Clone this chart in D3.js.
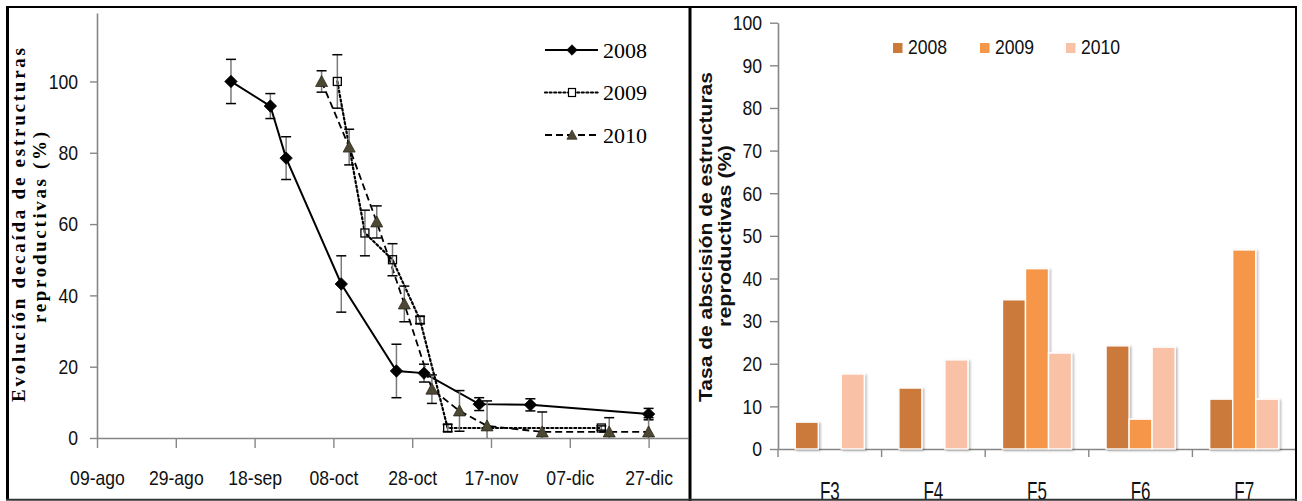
<!DOCTYPE html>
<html><head><meta charset="utf-8">
<script src="https://cdn.jsdelivr.net/npm/d3@7"></script>
<style>
html,body{margin:0;padding:0;background:#fff;}
svg{display:block;}
</style></head><body>
<svg id="fig" width="1302" height="501"></svg>
<script>
// ---------- Left panel: fall of reproductive structures over the season (%) ----------
const seasonTicks = ["09-ago","29-ago","18-sep","08-oct","28-oct","17-nov","07-dic","27-dic"];
const yTicksLeft = [0, 20, 40, 60, 80, 100];

const dates2008  = ["12-sep","22-sep","26-sep","10-oct","24-oct","31-oct","14-nov","27-nov","27-dic"];
const values2008 = [100, 93.1, 78.5, 43.2, 18.8, 18.2, 9.5, 9.3, 6.7];
const errors2008 = [6.2, 3.5, 6.0, 7.9, 7.5, 2.5, 1.8, 1.7, 1.6];

const dates2009  = ["09-oct","16-oct","23-oct","30-oct","06-nov","15-dic"];
const values2009 = [100, 57.5, 50.0, 33.1, 2.8, 2.8];
const errors2009 = [7.5, 6.4, 4.5, 1.0, 1.0, 0.6];

const dates2010  = ["05-oct","12-oct","19-oct","26-oct","02-nov","09-nov","16-nov","30-nov","17-dic","27-dic"];
const values2010 = [100, 81.6, 60.6, 37.6, 13.7, 7.6, 3.4, 1.7, 1.7, 1.7];
const errors2010 = [3.0, 5.0, 4.5, 5.0, 4.0, 5.7, 7.0, 5.6, 4.0, 4.0];

// ---------- Right panel: abscission rate by phenological phase (%) ----------
const phases   = ["F3","F4","F5","F6","F7"];
const barYears = ["2008","2009","2010"];
const rate2008 = [6.3, 14.3, 35.0, 24.2, 11.7];
const rate2009 = [0, 0, 42.3, 7.0, 46.7];
const rate2010 = [17.6, 20.9, 22.5, 23.9, 11.7];
const yTicksRight = [0, 10, 20, 30, 40, 50, 60, 70, 80, 90, 100];

// Spanish month names so "dd-mmm" strings parse onto a common season axis
const es = d3.timeFormatLocale({
  dateTime: "%A, %e de %B de %Y, %X", date: "%d/%m/%Y", time: "%H:%M:%S",
  periods: ["AM", "PM"],
  days: ["domingo","lunes","martes","miércoles","jueves","viernes","sábado"],
  shortDays: ["dom","lun","mar","mié","jue","vie","sáb"],
  months: ["enero","febrero","marzo","abril","mayo","junio","julio","agosto","septiembre","octubre","noviembre","diciembre"],
  shortMonths: ["ene","feb","mar","abr","may","jun","jul","ago","sep","oct","nov","dic"]
});
const parseDay = es.utcParse("%d-%b");

const svg = d3.select("#fig");
svg.append("rect").attr("width", 1302).attr("height", 501).attr("fill", "#fff");

const defs = svg.append("defs");
defs.append("filter").attr("id", "barShadow")
  .attr("x", "-20%").attr("y", "-10%").attr("width", "150%").attr("height", "130%")
  .append("feDropShadow")
  .attr("dx", 1.6).attr("dy", 1.2).attr("stdDeviation", 1.1)
  .attr("flood-color", "#000").attr("flood-opacity", 0.28);

const axisGrey = "#868686";
const tickFont = "'Liberation Sans', Arial, sans-serif";

function styleAxis(g) {
  g.select(".domain").attr("stroke", axisGrey).attr("stroke-width", 1.6);
  g.selectAll(".tick line").attr("stroke", axisGrey).attr("stroke-width", 1.4);
  g.selectAll("text").attr("fill", "#111").style("font-family", tickFont).style("font-size", "20px");
}

// ===== Left panel =====
const tickDates = seasonTicks.map(parseDay);
const xL = d3.scaleUtc()
  .domain([tickDates[0], d3.utcDay.offset(tickDates[tickDates.length - 1], 10)])
  .range([97, 688]);
const yL = d3.scaleLinear().domain([0, 119.2]).range([438, 13]);

const gL = svg.append("g");

const yAxisL = gL.append("g").attr("transform", "translate(97,0)")
  .call(d3.axisLeft(yL).tickValues(yTicksLeft).tickSize(7).tickSizeOuter(0));
styleAxis(yAxisL);
yAxisL.selectAll("text").attr("x", -21.6).attr("dy", "0.34em").attr("transform", "scale(0.88,1)");

const xAxisL = gL.append("g").attr("transform", "translate(0,438)")
  .call(d3.axisBottom(xL).tickValues(tickDates).tickFormat((d, i) => seasonTicks[i]).tickSize(10).tickSizeOuter(0));
styleAxis(xAxisL);
xAxisL.selectAll("text").attr("y", 33).attr("dy", "0.71em").attr("transform", "scale(0.88,1)");

const seriesL = [
  { name: "2008", dates: dates2008, values: values2008, errors: errors2008, dash: null,    width: 2.0, marker: "diamond" },
  { name: "2009", dates: dates2009, values: values2009, errors: errors2009, dash: "2,2.6", width: 2.2, marker: "square" },
  { name: "2010", dates: dates2010, values: values2010, errors: errors2010, dash: "7,4",   width: 1.8, marker: "triangle" }
];

const diamondPath  = "M0,-6.2L6.2,0L0,6.2L-6.2,0Z";
const trianglePath = "M0,-6L6,5L-6,5Z";

function drawMarker(g, kind, scale) {
  const s = scale || 1;
  if (kind === "diamond") {
    g.append("path").attr("d", diamondPath).attr("transform", `scale(${s})`).attr("fill", "#000").attr("stroke", "#000").attr("stroke-width", 0.8);
  } else if (kind === "square") {
    g.append("rect").attr("x", -4 * s).attr("y", -4 * s).attr("width", 8 * s).attr("height", 8 * s)
      .attr("fill", "none").attr("stroke", "#000").attr("stroke-width", 1.3);
  } else {
    g.append("path").attr("d", trianglePath).attr("transform", `scale(${s})`).attr("fill", "#4d4833").attr("stroke", "#2b281b").attr("stroke-width", 0.8);
  }
}

const lineL = d3.line().x(d => xL(d.date)).y(d => yL(d.value));

seriesL.forEach(s => {
  s.points = s.dates.map((t, i) => ({ date: parseDay(t), value: s.values[i], err: s.errors[i] }));
  gL.append("path").datum(s.points).attr("d", lineL)
    .attr("fill", "none").attr("stroke", "#000").attr("stroke-width", s.width)
    .attr("stroke-dasharray", s.dash).attr("stroke-linecap", s.dash === "2,2.6" ? "round" : "butt");
});

seriesL.forEach(s => {
  const eb = gL.append("g");
  s.points.forEach(p => {
    const x = xL(p.date);
    const lo = Math.max(0, p.value - p.err), hi = p.value + p.err;
    eb.append("line").attr("x1", x).attr("x2", x).attr("y1", yL(lo)).attr("y2", yL(hi))
      .attr("stroke", "#7a7a7a").attr("stroke-width", 1.5);
    eb.append("line").attr("x1", x - 5).attr("x2", x + 5).attr("y1", yL(hi)).attr("y2", yL(hi))
      .attr("stroke", "#000").attr("stroke-width", 1.5);
    if (p.value - p.err >= 0) {
      eb.append("line").attr("x1", x - 5).attr("x2", x + 5).attr("y1", yL(lo)).attr("y2", yL(lo))
        .attr("stroke", "#000").attr("stroke-width", 1.5);
    }
  });
  s.points.forEach(p => {
    const m = gL.append("g").attr("transform", `translate(${xL(p.date)},${yL(p.value)})`);
    drawMarker(m, s.marker, 1);
  });
});

// legend of the left panel
const legL = gL.append("g");
seriesL.forEach((s, i) => {
  const y = 50 + i * 42.5;
  legL.append("line").attr("x1", 545).attr("x2", 598).attr("y1", y).attr("y2", y)
    .attr("stroke", "#000").attr("stroke-width", s.width).attr("stroke-dasharray", s.dash)
    .attr("stroke-linecap", s.dash === "2,2.6" ? "round" : "butt");
  const m = legL.append("g").attr("transform", `translate(572,${y})`);
  if (s.marker === "square") {
    m.append("rect").attr("x", -3.5).attr("y", -4).attr("width", 7).attr("height", 8).attr("fill", "#fff").attr("stroke", "#000").attr("stroke-width", 1.2);
  } else {
    drawMarker(m, s.marker, 0.85);
  }
  legL.append("text").attr("x", 603).attr("y", y + 7.5).text(s.name)
    .style("font-family", "'Liberation Serif', 'Times New Roman', serif").style("font-size", "22px").attr("fill", "#000");
});

// y title of the left panel
const serifBold = "'Liberation Serif', 'Times New Roman', serif";
gL.append("text").attr("transform", "translate(25,402) rotate(-90)")
  .attr("textLength", 354).attr("lengthAdjust", "spacing")
  .style("font-family", serifBold).style("font-weight", "bold").style("font-size", "19px")
  .text("Evolución decaída de estructuras");
gL.append("text").attr("transform", "translate(46,323) rotate(-90)")
  .attr("textLength", 191).attr("lengthAdjust", "spacing")
  .style("font-family", serifBold).style("font-weight", "bold").style("font-size", "19px")
  .text("reproductivas (%)");

// ===== Right panel =====
const gR = svg.append("g");
const xR = d3.scaleBand().domain(phases).range([778, 1296]).padding(0);
const groupW = xR.bandwidth() * 3 / 4.5;
const x1 = d3.scaleBand().domain(barYears).range([0, groupW]).padding(0);
const groupOff = (xR.bandwidth() - groupW) / 2;
const yR = d3.scaleLinear().domain([0, 100]).range([449, 22.7]);
const barColors = { "2008": "#CC7A3A", "2009": "#F59648", "2010": "#F9C2A7" };
const rates = { "2008": rate2008, "2009": rate2009, "2010": rate2010 };

const yAxisR = gR.append("g").attr("transform", "translate(778,0)")
  .call(d3.axisLeft(yR).tickValues(yTicksRight).tickSize(8).tickSizeOuter(0));
styleAxis(yAxisR);
yAxisR.selectAll("text").attr("x", -18.2).attr("dy", "0.34em").attr("transform", "scale(0.88,1)");

const xAxisR = gR.append("g").attr("transform", "translate(0,449)")
  .call(d3.axisBottom(xR).tickSize(0).tickFormat(""));
styleAxis(xAxisR);
const bounds = phases.map(p => xR(p)).concat([xR.range()[1]]);
gR.append("g").selectAll("line").data(bounds).join("line")
  .attr("x1", d => d).attr("x2", d => d).attr("y1", 449).attr("y2", 457)
  .attr("stroke", axisGrey).attr("stroke-width", 1.4);

// bars
const bars = gR.append("g").attr("filter", "url(#barShadow)");
barYears.forEach(yr => {
  phases.forEach((ph, i) => {
    const v = rates[yr][i];
    if (v <= 0) return;
    bars.append("rect")
      .attr("x", xR(ph) + groupOff + x1(yr))
      .attr("y", yR(v))
      .attr("width", x1.bandwidth())
      .attr("height", yR(0) - yR(v))
      .attr("fill", barColors[yr]).attr("stroke", "#fff").attr("stroke-width", 1.4);
  });
});

// category labels (partly hidden by the panel frame)
gR.append("g").selectAll("text").data(phases).join("text")
  .attr("transform", d => `translate(${xR(d) + xR.bandwidth() / 2},499.5) scale(0.85,1.3)`)
  .attr("text-anchor", "middle").attr("fill", "#111")
  .style("font-family", tickFont).style("font-size", "20px")
  .text(d => d);

// legend of the right panel
const legendX = [893, 980, 1066];
barYears.forEach((yr, i) => {
  gR.append("rect").attr("x", legendX[i]).attr("y", 43).attr("width", 9.5).attr("height", 10).attr("fill", barColors[yr]);
  gR.append("text").attr("x", (legendX[i] + 15) / 0.88).attr("y", 54.5).attr("transform", "scale(0.88,1)")
    .attr("fill", "#111").style("font-family", tickFont).style("font-size", "20px").text(yr);
});

// y title of the right panel
const sansBold = "'Liberation Sans', Arial, sans-serif";
gR.append("text").attr("transform", "translate(712,402) rotate(-90)")
  .attr("textLength", 330).attr("lengthAdjust", "spacingAndGlyphs")
  .style("font-family", sansBold).style("font-weight", "bold").style("font-size", "19px").attr("fill", "#111")
  .text("Tasa de abscisión de estructuras");
gR.append("text").attr("transform", "translate(731,327) rotate(-90)")
  .attr("textLength", 182).attr("lengthAdjust", "spacingAndGlyphs")
  .style("font-family", sansBold).style("font-weight", "bold").style("font-size", "19px").attr("fill", "#111")
  .text("reproductivas (%)");

// ===== panel frames =====
const frame = svg.append("g").attr("stroke", "#000").attr("fill", "none");
frame.append("line").attr("x1", 6).attr("x2", 1297).attr("y1", 7).attr("y2", 7).attr("stroke-width", 2.2);
frame.append("line").attr("x1", 7.5).attr("x2", 7.5).attr("y1", 6).attr("y2", 500).attr("stroke-width", 3);
frame.append("line").attr("x1", 690).attr("x2", 690).attr("y1", 6).attr("y2", 501).attr("stroke-width", 3);
frame.append("line").attr("x1", 1296).attr("x2", 1296).attr("y1", 6).attr("y2", 501).attr("stroke-width", 2);
frame.append("line").attr("x1", 6).attr("x2", 1297).attr("y1", 499.8).attr("y2", 499.8).attr("stroke-width", 2).attr("stroke", "#333");
</script>
</body></html>
